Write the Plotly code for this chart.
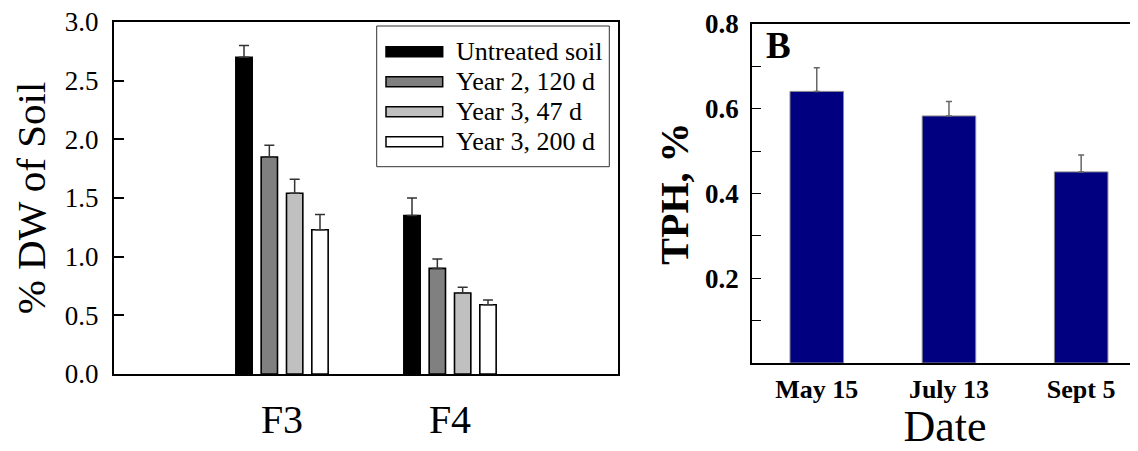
import plotly.graph_objects as go

# ---------------- data ----------------
fractions = ["F3", "F4"]
series_names = ["Untreated soil", "Year 2, 120 d", "Year 3, 47 d", "Year 3, 200 d"]
series_values = [
    [2.70, 1.35],
    [1.85, 0.90],
    [1.54, 0.69],
    [1.23, 0.59],
]
series_errors = [
    [0.10, 0.15],
    [0.10, 0.08],
    [0.12, 0.05],
    [0.13, 0.04],
]
left_yticks = [0.0, 0.5, 1.0, 1.5, 2.0, 2.5, 3.0]

dates = ["May 15", "July 13", "Sept 5"]
tph_values = [0.641, 0.583, 0.451]
tph_errors = [0.056, 0.034, 0.040]
right_yticks = [0.2, 0.4, 0.6, 0.8]

# ---------------- style ----------------
FONT = "Liberation Serif"
OFF = 8                      # default page body margin
W, H = 1138 - OFF, 451 - OFF
series_colors = ["#000000", "#808080", "#c0c0c0", "#ffffff"]


def px_x(p):
    return (p - OFF) / W


def px_y(p):
    return (H - (p - OFF)) / H


fig = go.Figure()

for name, vals, errs, col in zip(series_names, series_values, series_errors, series_colors):
    fig.add_trace(go.Bar(
        x=fractions, y=vals, name=name,
        marker=dict(color=col, line=dict(color="#000000", width=1.6)),
        error_y=dict(type="data", array=errs, arrayminus=[0] * len(errs),
                     symmetric=False, color="#333333", thickness=1.5, width=5),
        xaxis="x", yaxis="y", showlegend=False,
    ))

fig.add_trace(go.Bar(
    x=dates, y=tph_values, name="TPH",
    marker=dict(color="#000080", line=dict(color="#8a8a8a", width=1)),
    error_y=dict(type="data", array=tph_errors, arrayminus=[0] * len(tph_errors),
                 symmetric=False, color="#666666", thickness=1.5, width=3),
    width=0.405,
    xaxis="x2", yaxis="y2", showlegend=False,
))

# ---------------- layout ----------------
fig.update_layout(
    width=W, height=H,
    margin=dict(l=0, r=0, t=0, b=0),
    paper_bgcolor="white", plot_bgcolor="white",
    barmode="group", bargap=0.397, bargroupgap=0.355,
    font=dict(family=FONT, color="black"),
    showlegend=False,
    xaxis=dict(
        domain=[px_x(114), px_x(618)],
        type="category", range=[-1, 2],
        showline=True, linecolor="black", linewidth=2, mirror=True,
        ticks="", showgrid=False, zeroline=False,
        tickfont=dict(family=FONT, size=40),
        ticklabelstandoff=9,
        automargin=False, fixedrange=True,
    ),
    yaxis=dict(
        domain=[px_y(374), px_y(22)],
        range=[0, 3.0], tickvals=left_yticks,
        ticktext=[f"{v:.1f}" for v in left_yticks],
        showline=True, linecolor="black", linewidth=2, mirror=True,
        ticks="inside", ticklen=10, tickwidth=2, tickcolor="black",
        showgrid=False, zeroline=False,
        tickfont=dict(family=FONT, size=27),
        ticklabelstandoff=8,
        ticklabeloverflow="allow",
        title=dict(text="% DW of Soil", font=dict(family=FONT, size=41), standoff=10),
        automargin=False, fixedrange=True,
    ),
    xaxis2=dict(
        domain=[px_x(752), 1.0],
        type="category", range=[-0.49, 2.43],
        anchor="y2",
        showline=True, linecolor="black", linewidth=1.5, mirror=True,
        ticks="", showgrid=False, zeroline=False,
        tickfont=dict(family=FONT, size=26, weight="bold"),
        ticklabelstandoff=2,
        title=dict(text="Date", font=dict(family=FONT, size=44), standoff=23),
        automargin=False, fixedrange=True,
    ),
    yaxis2=dict(
        domain=[px_y(363), px_y(24)],
        anchor="x2",
        range=[0, 0.8], tickvals=right_yticks,
        ticktext=[f"{v:.1f}" for v in right_yticks],
        showline=True, linecolor="black", linewidth=1.5, mirror=False,
        ticks="inside", ticklen=9, tickwidth=1, tickcolor="black",
        minor=dict(ticks="inside", dtick=0.1, tick0=0, ticklen=9, tickwidth=1, tickcolor="black"),
        showgrid=False, zeroline=False,
        tickfont=dict(family=FONT, size=27, weight="bold"),
        ticklabelstandoff=6,
        ticklabeloverflow="allow",
        title=dict(text="TPH, %", font=dict(family=FONT, size=40, weight="bold"), standoff=4),
        automargin=False, fixedrange=True,
    ),
)

# ---------------- custom legend (wide swatches as in the reference) ----------------
shapes = [dict(type="rect", xref="paper", yref="paper",
               x0=px_x(376.7), x1=px_x(609.3), y0=px_y(166.7), y1=px_y(26),
               line=dict(color="#333333", width=1), fillcolor="white", layer="above")]
annotations = []
row_centers = [51.7, 81.7, 111.7, 141.7]
for name, col, yc in zip(series_names, series_colors, row_centers):
    shapes.append(dict(type="rect", xref="paper", yref="paper",
                       x0=px_x(386), x1=px_x(442.7), y0=px_y(yc + 5), y1=px_y(yc - 5),
                       line=dict(color="#000000", width=1.5), fillcolor=col, layer="above"))
    annotations.append(dict(text=name, xref="paper", yref="paper",
                            x=px_x(454), y=px_y(yc), xanchor="left", yanchor="middle",
                            showarrow=False, font=dict(family=FONT, size=26, color="black")))

annotations.append(dict(text="<b>B</b>", xref="paper", yref="paper",
                        x=px_x(764), y=px_y(45.8), xanchor="left", yanchor="middle",
                        showarrow=False, font=dict(family=FONT, size=37, color="black")))

fig.update_layout(shapes=shapes, annotations=annotations)

fig.write_html("out.html")
